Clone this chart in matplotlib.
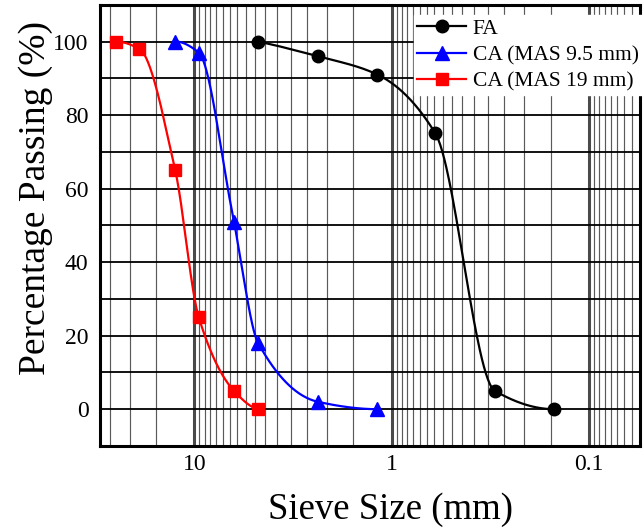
import numpy as np
import matplotlib
matplotlib.use("Agg")
import matplotlib.pyplot as plt
from matplotlib.ticker import FixedLocator, FixedFormatter, NullFormatter

# Sieve analysis data (sieve opening in mm, cumulative percentage passing)
fa_sieve = [4.75, 2.36, 1.18, 0.6, 0.3, 0.15]
fa_pass = [100, 96, 91, 75, 5, 0]

ca95_sieve = [12.5, 9.5, 6.3, 4.75, 2.36, 1.18]
ca95_pass = [100, 97, 51, 18, 2, 0]

ca19_sieve = [25, 19, 12.5, 9.5, 6.3, 4.75]
ca19_pass = [100, 98, 65, 25, 5, 0]

x_major = [10, 1, 0.1]
x_major_labels = ["10", "1", "0.1"]
y_major = [0, 20, 40, 60, 80, 100]

plt.rcParams["font.family"] = ["Liberation Serif", "DejaVu Serif"]


def pchip(x, y, xn):
    """Monotone cubic (Fritsch-Carlson) curve through the points."""
    x = np.asarray(x, float)
    y = np.asarray(y, float)
    h = np.diff(x)
    d = np.diff(y) / h
    n = len(x)
    m = np.zeros(n)
    for i in range(1, n - 1):
        if d[i - 1] * d[i] > 0:
            w1 = 2 * h[i] + h[i - 1]
            w2 = h[i] + 2 * h[i - 1]
            m[i] = (w1 + w2) / (w1 / d[i - 1] + w2 / d[i])
    m[0] = ((2 * h[0] + h[1]) * d[0] - h[0] * d[1]) / (h[0] + h[1])
    if np.sign(m[0]) != np.sign(d[0]):
        m[0] = 0
    elif np.sign(d[0]) != np.sign(d[1]) and abs(m[0]) > abs(3 * d[0]):
        m[0] = 3 * d[0]
    m[-1] = ((2 * h[-1] + h[-2]) * d[-1] - h[-1] * d[-2]) / (h[-1] + h[-2])
    if np.sign(m[-1]) != np.sign(d[-1]):
        m[-1] = 0
    elif np.sign(d[-1]) != np.sign(d[-2]) and abs(m[-1]) > abs(3 * d[-1]):
        m[-1] = 3 * d[-1]
    idx = np.clip(np.searchsorted(x, xn) - 1, 0, n - 2)
    t = (xn - x[idx]) / h[idx]
    h00 = 2 * t**3 - 3 * t**2 + 1
    h10 = t**3 - 2 * t**2 + t
    h01 = -2 * t**3 + 3 * t**2
    h11 = t**3 - t**2
    return (h00 * y[idx] + h10 * h[idx] * m[idx]
            + h01 * y[idx + 1] + h11 * h[idx] * m[idx + 1])


def smooth(sieve, passing):
    lx = np.log10(sieve)[::-1]
    yy = np.asarray(passing, float)[::-1]
    xs = np.linspace(lx[0], lx[-1], 300)
    return 10 ** xs, pchip(lx, yy, xs)


fig = plt.figure(figsize=(6.43, 5.29), dpi=100)
ax = fig.add_axes([0.155, 0.157, 0.840, 0.834])

ax.set_xscale("log")
ax.set_xlim(30.2, 0.0552)
ax.set_ylim(-10, 110)

# Grid: decades plus 15 evenly spaced minor lines per decade
minor = []
for dec in [0.01, 0.1, 1, 10]:
    for k in range(1, 16):
        minor.append(dec * (1 + k * 0.5625))
ax.xaxis.set_major_locator(FixedLocator(x_major))
ax.xaxis.set_major_formatter(FixedFormatter(x_major_labels))
ax.xaxis.set_minor_locator(FixedLocator(minor))
ax.xaxis.set_minor_formatter(NullFormatter())
ax.yaxis.set_major_locator(FixedLocator(y_major))
ax.yaxis.set_minor_locator(FixedLocator([-10, 10, 30, 50, 70, 90, 110]))

ax.grid(True, axis="x", which="major", color="#4a4a4a", linewidth=2.2, zorder=0)
ax.grid(True, axis="x", which="minor", color="#5a5a5a", linewidth=0.85, zorder=0)
ax.grid(True, axis="y", which="both", color="black", linewidth=1.3, zorder=0)
ax.set_axisbelow(True)

series = [
    (fa_sieve, fa_pass, "black", "o", 9, "FA"),
    (ca95_sieve, ca95_pass, "#0000ff", "^", 10, "CA (MAS 9.5 mm)"),
    (ca19_sieve, ca19_pass, "#ff0000", "s", 8, "CA (MAS 19 mm)"),
]
for sieve, passing, color, marker, ms, label in series:
    sx, sy = smooth(sieve, passing)
    ax.plot(sx, sy, color=color, linewidth=1.6, zorder=3)
    ax.plot(sieve, passing, linestyle="none", marker=marker, markersize=ms,
            color=color, zorder=4)
    ax.plot([], [], color=color, linewidth=1.6, marker=marker,
            markersize=ms, label=label)

ax.tick_params(axis="both", which="both", length=0, labelsize=17)
ax.tick_params(axis="y", pad=8)
ax.tick_params(axis="x", pad=6)

for sp in ax.spines.values():
    sp.set_linewidth(2.2)
    sp.set_color("black")

ax.set_xlabel("Sieve Size (mm)", fontsize=26.5, labelpad=12)
ax.set_ylabel("Percentage Passing (%)", fontsize=27, labelpad=0)
ax.xaxis.label.set_x(0.538)
ax.yaxis.label.set_y(0.562)

leg = ax.legend(loc="upper right", fontsize=15.5, frameon=True, fancybox=False,
                borderpad=0.15, handlelength=2.3, handletextpad=0.3,
                labelspacing=0.3, borderaxespad=0,
                bbox_to_anchor=(1.004, 0.976))
leg.get_frame().set_edgecolor("white")
leg.get_frame().set_facecolor("white")
leg.get_frame().set_alpha(1)

fig.savefig("out.png", dpi=100)
